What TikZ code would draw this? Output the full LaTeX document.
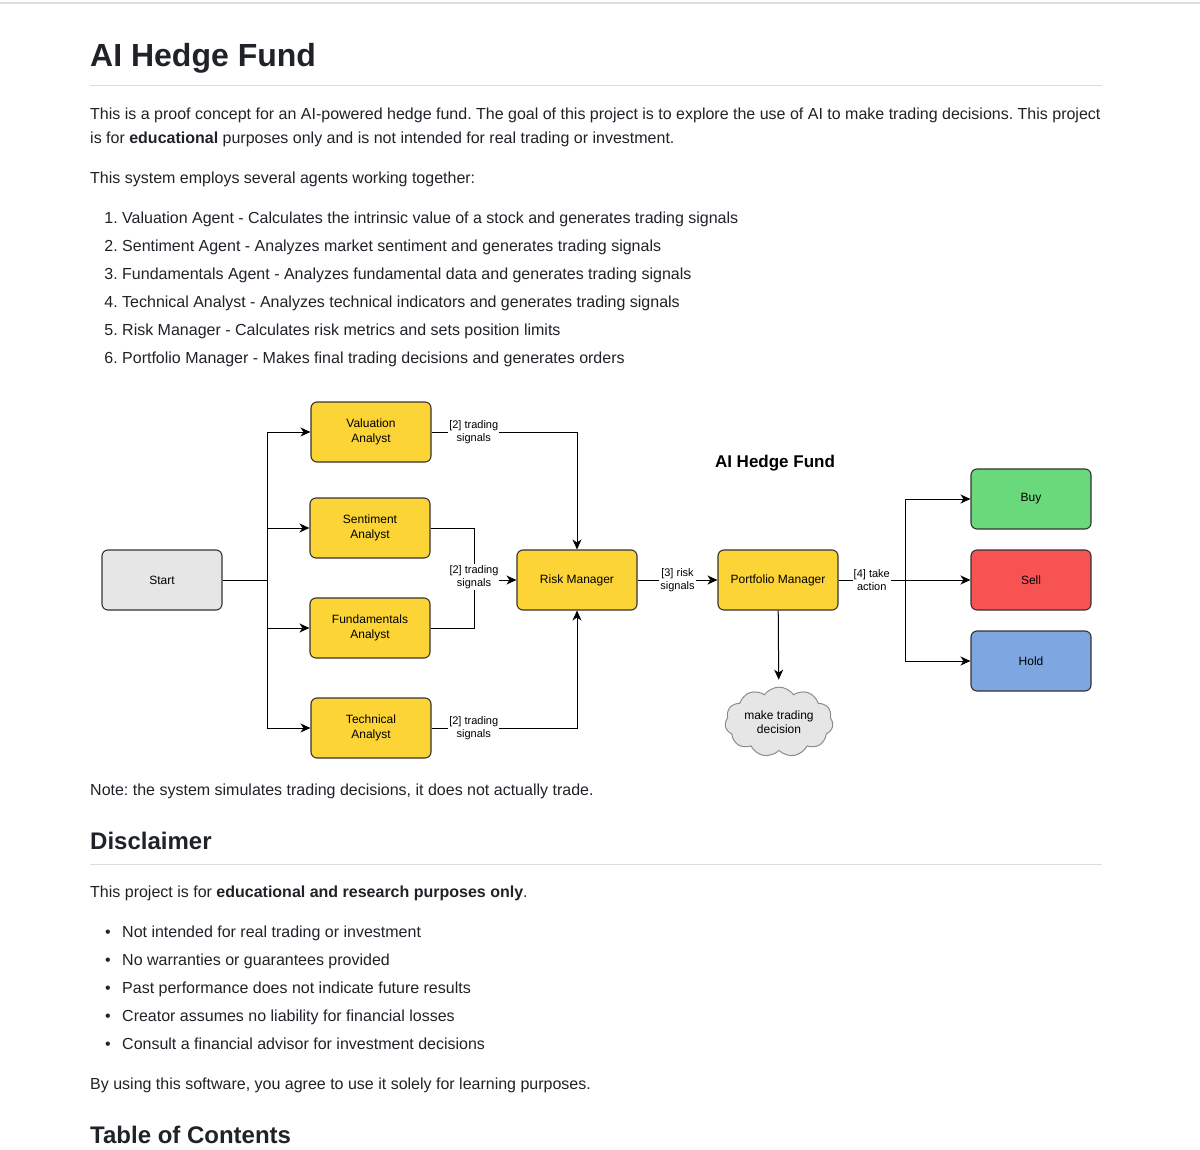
\documentclass[tikz,border=0pt]{standalone}
\usepackage{fontspec}
\setmainfont{Liberation Sans}
\usetikzlibrary{shapes.symbols,arrows.meta,positioning}
\definecolor{ink}{HTML}{1F2328}
\definecolor{rule}{HTML}{D8DEE4}
\definecolor{edge}{HTML}{333333}
\definecolor{agentyellow}{HTML}{FDD435}
\definecolor{startgray}{HTML}{E6E6E6}
\definecolor{buygreen}{HTML}{69D97B}
\definecolor{sellred}{HTML}{F85353}
\definecolor{holdblue}{HTML}{7EA6E0}
\tikzstyle{txt} = [anchor=base west, inner sep=0pt, text=ink, font=\fontsize{16}{24}\selectfont]
\tikzstyle{heading} = [anchor=base west, inner sep=0pt, text=ink, font=\bfseries\fontsize{24}{30}\selectfont]
\tikzstyle{agent} = [rectangle, rounded corners=6pt, minimum width=120pt, minimum height=60pt, align=center, draw=edge, line width=1.1pt, fill=agentyellow, font=\fontsize{12}{15}\selectfont]
\tikzstyle{lbl} = [fill=white, inner sep=1pt, align=center, font=\fontsize{11}{13}\selectfont]
\tikzstyle{arrow} = [line width=1pt, -{Stealth[length=10pt,width=9pt,inset=3pt]}]
\frenchspacing

\begin{document}
\begin{tikzpicture}[x=1pt, y=-1pt]
  \useasboundingbox[fill=white] (0,0) rectangle (1200,1150);
  \draw[rule, line width=1.5pt] (0,3) -- (1200,3);
  % page header and intro
  \node (title)[heading, font=\bfseries\fontsize{32}{38}\selectfont] at (90,67) {AI Hedge Fund};
  \draw[rule, line width=1pt] (90,86) -- (1102,86);
  \node (intro1)[txt] at (90,120) {This is a proof concept for an AI-powered hedge fund. The goal of this project is to explore the use of AI to make trading decisions. This project};
  \node (intro2)[txt] at (90,144) {is for \textbf{educational} purposes only and is not intended for real trading or investment.};
  \node (employs)[txt] at (90,184) {This system employs several agents working together:};
  \foreach \i/\t in {1/Valuation Agent - Calculates the intrinsic value of a stock and generates trading signals,
                     2/Sentiment Agent - Analyzes market sentiment and generates trading signals,
                     3/Fundamentals Agent - Analyzes fundamental data and generates trading signals,
                     4/Technical Analyst - Analyzes technical indicators and generates trading signals,
                     5/Risk Manager - Calculates risk metrics and sets position limits,
                     6/Portfolio Manager - Makes final trading decisions and generates orders} {
    \node (num\i)[txt, anchor=base east] at (118,{224+28*(\i-1)}) {\i.};
    \node (item\i)[txt] at (122,{224+28*(\i-1)}) {\t};
  }

  % diagram
  \node (start)[agent, fill=startgray] at (162,580) {Start};
  \node (val)[agent] at (371,432) {Valuation\\Analyst};
  \node (sent)[agent] at (370,528) {Sentiment\\Analyst};
  \node (fund)[agent] at (370,628) {Fundamentals\\Analyst};
  \node (tech)[agent] at (371,728) {Technical\\Analyst};
  \node (risk)[agent] at (577,580) {Risk Manager};
  \node (port)[agent] at (778,580) {Portfolio Manager};
  \node (buy)[agent, fill=buygreen] at (1031,499) {Buy};
  \node (sell)[agent, fill=sellred] at (1031,580) {Sell};
  \node (hold)[agent, fill=holdblue] at (1031,661) {Hold};
  \node (dec)[cloud, cloud puffs=11, cloud puff arc=110, aspect=1.7, draw=gray!90, fill=startgray, line width=1pt, minimum width=108pt, minimum height=68pt, inner sep=0pt, align=center, font=\fontsize{12}{14}\selectfont] at (779,722) {make trading\\decision};
  \node (dtitle)[font=\bfseries\fontsize{17}{20}\selectfont, text=black] at (775,463) {AI Hedge Fund};
  \coordinate (split) at (267,580);
  \coordinate (join) at (474,580);
  \coordinate (fork) at (905,580);

  \draw[line width=1pt] (start) -- (split);
  \draw[arrow] (split) |- (val);
  \draw[arrow] (split) |- (sent);
  \draw[arrow] (split) |- (fund);
  \draw[arrow] (split) |- (tech);
  \draw[arrow] (val) -| (risk) node[lbl, pos=0.145]{[2] trading\\signals};
  \draw[line width=1pt] (sent) -| (join);
  \draw[line width=1pt] (fund) -| (join);
  \draw[arrow] (join) -- (risk) node[lbl, pos=0, yshift=3pt]{[2] trading\\signals};
  \draw[arrow] (tech) -| (risk) node[lbl, pos=0.145]{[2] trading\\signals};
  \draw[arrow] (risk) -- (port) node[lbl, midway]{[3] risk\\signals};
  \draw[line width=1pt] (port) -- (fork) node[lbl, midway]{[4] take\\action};
  \draw[arrow] (fork) |- (buy);
  \draw[arrow] (fork) -- (sell);
  \draw[arrow] (fork) |- (hold);
  \draw[arrow, shorten >=7pt] (port) -- (dec);

  % note and disclaimer
  \node (note)[txt] at (90,795) {Note: the system simulates trading decisions, it does not actually trade.};
  \node (disc)[heading] at (90,849) {Disclaimer};
  \draw[rule, line width=1pt] (90,864) -- (1102,864);
  \node (purpose)[txt] at (90,897.5) {This project is for \textbf{educational and research purposes only}.};
  \foreach \i/\t in {1/Not intended for real trading or investment,
                     2/No warranties or guarantees provided,
                     3/Past performance does not indicate future results,
                     4/Creator assumes no liability for financial losses,
                     5/Consult a financial advisor for investment decisions} {
    \node (dot\i)[txt, anchor=base] at (108,{937.5+28*(\i-1)}) {•};
    \node (point\i)[txt] at (122,{937.5+28*(\i-1)}) {\t};
  }
  \node (agree)[txt] at (90,1089.5) {By using this software, you agree to use it solely for learning purposes.};
  \node (toc)[heading] at (90,1143) {Table of Contents};
\end{tikzpicture}
\end{document}
